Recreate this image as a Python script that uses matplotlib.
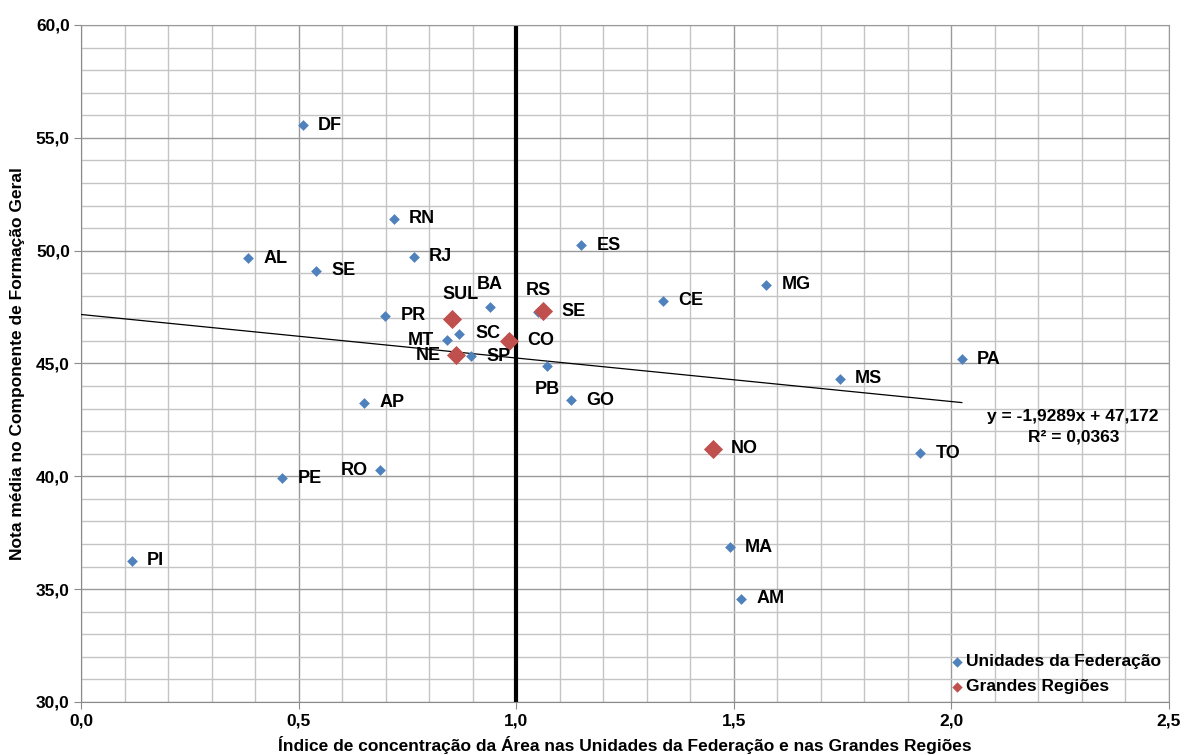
import matplotlib
matplotlib.use("Agg")
import matplotlib.pyplot as plt
from matplotlib.ticker import MultipleLocator, FuncFormatter
import numpy as np

plt.rcParams['font.family'] = ['Liberation Sans', 'DejaVu Sans']
plt.rcParams['font.weight'] = 'bold'

# Unidades da Federação
uf_labels = ['DF', 'RN', 'ES', 'AL', 'RJ', 'SE', 'MG', 'BA', 'RS', 'CE', 'PR', 'MT', 'SC', 'SP',
             'PB', 'GO', 'PA', 'MS', 'AP', 'TO', 'RO', 'PE', 'PI', 'MA', 'AM']
uf_x = [0.510, 0.719, 1.149, 0.384, 0.765, 0.540, 1.574, 0.940, 1.050, 1.337, 0.699, 0.841, 0.869, 0.896,
        1.071, 1.126, 2.024, 1.744, 0.650, 1.928, 0.687, 0.462, 0.117, 1.491, 1.517]
uf_y = [55.55, 51.42, 50.25, 49.66, 49.74, 49.10, 48.50, 47.50, 47.30, 47.78, 47.12, 46.02, 46.32, 45.33,
        44.88, 43.37, 45.18, 44.32, 43.25, 41.02, 40.26, 39.91, 36.25, 36.85, 34.58]

# Grandes Regiões
gr_labels = ['SUL', 'SE', 'CO', 'NE', 'NO']
gr_x = [0.852, 1.062, 0.983, 0.862, 1.452]
gr_y = [46.97, 47.32, 46.00, 45.36, 41.22]

# Linear trendline (from chart)
slope = -1.9289
intercept = 47.172
r2 = 0.0363

# label offsets (points): (dx, dy, ha)
uf_off = {'BA': (0, 16, 'center'), 'RS': (0, 15, 'center'), 'MT': (-9, 0, 'right'),
          'PB': (0, -17, 'center'), 'RO': (-9, 0, 'right'), 'SC': (12, 0, 'left')}
gr_off = {'SUL': (6, 18, 'center'), 'NE': (-11, 0, 'right'), 'SE': (13, 0, 'left'),
          'CO': (13, 0, 'left'), 'NO': (13, 0, 'left')}

blue = '#4F81BD'
red = '#C0504D'

fig = plt.figure(figsize=(11.84, 7.55), dpi=100)
ax = fig.add_axes([0.0684, 0.0702, 0.9189, 0.8967])

ax.set_xlim(0, 2.5)
ax.set_ylim(30, 60)
ax.xaxis.set_major_locator(MultipleLocator(0.5))
ax.xaxis.set_minor_locator(MultipleLocator(0.1))
ax.yaxis.set_major_locator(MultipleLocator(5))
ax.yaxis.set_minor_locator(MultipleLocator(1))
fmt = FuncFormatter(lambda v, p: f"{v:.1f}".replace('.', ','))
ax.xaxis.set_major_formatter(fmt)
ax.yaxis.set_major_formatter(fmt)

ax.grid(which='minor', color='#c4c4c4', linewidth=1.0, zorder=0)
ax.grid(which='major', color='#9a9a9a', linewidth=1.0, zorder=0)
ax.set_axisbelow(True)
for s in ax.spines.values():
    s.set_color('#8a8a8a')
ax.spines['top'].set_color('#9a9a9a')
ax.spines['right'].set_color('#9a9a9a')
ax.tick_params(which='major', length=5, color='#8a8a8a', labelsize=12.5, pad=3)
ax.tick_params(which='minor', length=0)
for lab in ax.get_xticklabels() + ax.get_yticklabels():
    lab.set_fontweight('bold')

# vertical reference line at 1.0
ax.axvline(1.0, color='black', linewidth=3, zorder=2)

# trendline
xt = np.array([0, max(uf_x)])
ax.plot(xt, slope * xt + intercept, color='black', linewidth=0.9, zorder=3)

ax.scatter(uf_x, uf_y, marker='D', s=30, color=blue, zorder=4, label='Unidades da Federação', linewidths=0)
ax.scatter(gr_x, gr_y, marker='D', s=95, color=red, zorder=5, label='Grandes Regiões', linewidths=0)

for lab, x, y in zip(uf_labels, uf_x, uf_y):
    dx, dy, ha = uf_off.get(lab, (11, 0, 'left'))
    ax.annotate(lab, (x, y), xytext=(dx, dy), textcoords='offset points', ha=ha, va='center',
                fontsize=13, fontweight='bold', zorder=6)
for lab, x, y in zip(gr_labels, gr_x, gr_y):
    dx, dy, ha = gr_off.get(lab, (11, 0, 'left'))
    ax.annotate(lab, (x, y), xytext=(dx, dy), textcoords='offset points', ha=ha, va='center',
                fontsize=13, fontweight='bold', zorder=6)

eq = f"y = {slope:.4f}x + {intercept:.3f}".replace('.', ',')
ax.text(2.28, 42.65, eq, ha='center', va='center', fontsize=12.5, fontweight='bold')
ax.text(2.28, 41.75, f"R² = {r2:.4f}".replace('.', ','), ha='center', va='center', fontsize=12.5, fontweight='bold')

leg = ax.legend(loc='lower right', frameon=False, fontsize=12.5, handletextpad=0.0, borderaxespad=0.2,
                labelspacing=0.55, markerscale=1.0, handlelength=1.0, borderpad=0.25)
for h in leg.legend_handles:
    h.set_sizes([28])
for t in leg.get_texts():
    t.set_fontweight('bold')

ax.set_xlabel('Índice de concentração da Área nas Unidades da Federação e nas Grandes Regiões',
              fontsize=12.5, fontweight='bold', labelpad=6)
ax.set_ylabel('Nota média no Componente de Formação Geral', fontsize=12.5, fontweight='bold', labelpad=8)

fig.savefig('out.png', dpi=100)
